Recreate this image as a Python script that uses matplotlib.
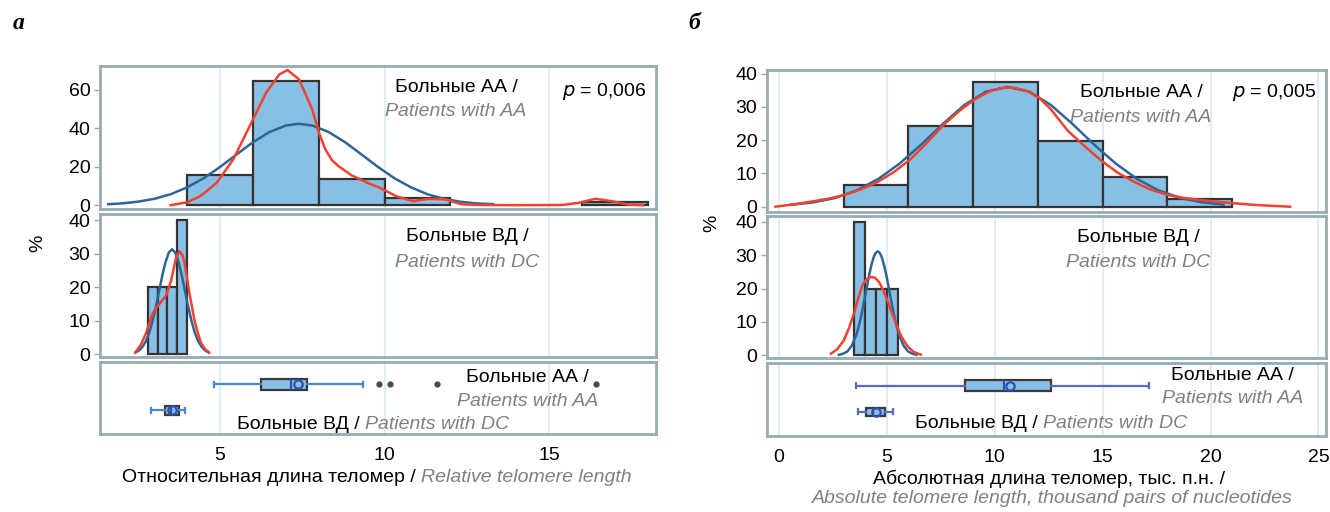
import numpy as np
import matplotlib
matplotlib.use("Agg")
import matplotlib.pyplot as plt

# ---- data ----
# relative telomere length (panel a)
rel_aa_edges = [4, 6, 8, 10, 12, 14, 16, 18]
rel_aa_pct = [15.8, 64.5, 13.4, 3.8, 0, 0, 1.8]
rel_dc_edges = [2.8, 3.1, 3.4, 3.7, 4.0]
rel_dc_pct = [20, 20, 20, 40]

rel_aa_norm_x = [1.6, 2.0, 2.5, 3.0, 3.5, 4.0, 4.5, 5.0, 5.5, 6.0, 6.5, 7.0, 7.4, 7.8, 8.3, 8.8, 9.3, 9.8, 10.3, 10.8, 11.3, 11.8, 12.3, 12.8, 13.3]
rel_aa_norm_y = [0.5, 0.9, 1.8, 3.3, 5.7, 9.3, 14.0, 19.9, 26.4, 32.8, 38.1, 41.5, 42.4, 41.5, 38.1, 32.8, 26.4, 19.9, 14.0, 9.3, 5.7, 3.3, 1.8, 0.9, 0.5]
rel_aa_kde_x = [3.5, 4.0, 4.4, 4.9, 5.4, 5.9, 6.4, 6.8, 7.05, 7.4, 7.8, 8.0, 8.2, 8.4, 8.6, 9.0, 9.5, 9.85, 10.35, 10.85, 11.35, 11.85, 12.35, 12.9, 14.0, 15.4, 15.9, 16.4, 16.9, 17.4, 17.85]
rel_aa_kde_y = [0, 1.5, 4.7, 11.7, 23.8, 41.2, 58.6, 68.1, 70.4, 65.5, 49.9, 38.0, 29.0, 23.5, 20.3, 15.5, 11.5, 9.1, 4.7, 2.1, 3.3, 3.0, 0.4, 0.1, 0, 0.1, 1.2, 3.3, 2.1, 0.3, 0]
rel_dc_norm_x = [2.44, 2.54, 2.64, 2.74, 2.84, 2.94, 3.04, 3.14, 3.24, 3.34, 3.44, 3.54, 3.64, 3.74, 3.84, 3.94, 4.04, 4.14, 4.24, 4.34, 4.44, 4.54, 4.64]
rel_dc_norm_y = [0.6, 1.2, 2.2, 3.8, 6.2, 9.6, 13.8, 18.5, 23.3, 27.4, 30.3, 31.3, 30.3, 27.4, 23.3, 18.5, 13.8, 9.6, 6.2, 3.8, 2.2, 1.2, 0.6]
rel_dc_kde_x = [2.42, 2.6, 2.75, 2.95, 3.06, 3.16, 3.36, 3.51, 3.66, 3.76, 3.86, 3.91, 4.0, 4.07, 4.22, 4.32, 4.42, 4.55, 4.67]
rel_dc_kde_y = [0.5, 3.0, 6.3, 12.2, 13.8, 15.1, 17.5, 21.9, 28.7, 30.7, 29.5, 27.8, 22.5, 18.1, 10.2, 6.5, 3.4, 1.5, 0.5]

rel_aa_box = dict(whislo=4.81, q1=6.25, med=7.16, q3=7.63, whishi=9.33, mean=7.36)
rel_aa_out = [9.82, 10.17, 11.6, 16.42]
rel_dc_box = dict(whislo=2.91, q1=3.32, med=3.5, q3=3.74, whishi=3.92, mean=3.55)

# absolute telomere length (panel b)
abs_aa_edges = [3, 6, 9, 12, 15, 18, 21]
abs_aa_pct = [6.5, 24.4, 37.6, 19.8, 8.8, 2.2]
abs_dc_edges = [3.5, 4.0, 4.5, 5.0, 5.5]
abs_dc_pct = [40, 20, 20, 20]

abs_aa_norm_x = [0.6, 1.6, 2.6, 3.6, 4.6, 5.6, 6.6, 7.6, 8.6, 9.6, 10.6, 11.6, 12.6, 13.6, 14.6, 15.6, 16.6, 17.6, 18.6, 19.6, 20.6]
abs_aa_norm_y = [0.6, 1.3, 2.6, 4.9, 8.3, 13.0, 18.7, 24.9, 30.6, 34.6, 36.0, 34.6, 30.6, 24.9, 18.7, 13.0, 8.3, 4.9, 2.6, 1.3, 0.6]
abs_aa_kde_x = [-0.16, 0.7, 1.47, 2.3, 3.02, 3.8, 4.57, 5.35, 6.12, 6.9, 7.66, 8.4, 9.06, 9.7, 10.3, 10.9, 11.54, 12.1, 12.6, 13.39, 14.2, 14.93, 15.7, 16.48, 17.2, 18.03, 18.8, 19.58, 20.3, 21.13, 21.9, 22.68, 23.69]
abs_aa_kde_y = [0, 0.7, 1.5, 2.4, 3.5, 5.2, 7.4, 10.5, 14.4, 19.5, 24.8, 29.0, 32.2, 34.5, 35.7, 35.8, 34.7, 32.5, 29.3, 22.8, 18.0, 13.9, 10.2, 7.4, 5.2, 3.5, 2.6, 2.0, 1.5, 1.0, 0.6, 0.3, 0]
abs_dc_norm_x = [2.78, 2.98, 3.18, 3.38, 3.58, 3.68, 3.78, 3.88, 3.98, 4.08, 4.18, 4.28, 4.38, 4.48, 4.58, 4.68, 4.78, 4.88, 4.98, 5.08, 5.18, 5.28, 5.38, 5.48, 5.58, 5.78, 5.98, 6.18, 6.38]
abs_dc_norm_y = [0.15, 0.5, 1.2, 2.9, 6.0, 8.2, 10.8, 13.9, 17.2, 20.6, 24.0, 26.9, 29.2, 30.7, 31.2, 30.7, 29.2, 26.9, 24.0, 20.6, 17.2, 13.9, 10.8, 8.2, 6.0, 2.9, 1.2, 0.5, 0.15]
abs_dc_kde_x = [2.41, 2.7, 3.02, 3.25, 3.48, 3.68, 3.87, 4.05, 4.25, 4.45, 4.64, 4.83, 5.03, 5.22, 5.42, 5.68, 5.96, 6.25, 6.58]
abs_dc_kde_y = [0.5, 1.8, 4.6, 8.2, 12.6, 17.2, 21.0, 22.8, 23.5, 23.3, 22.0, 19.6, 16.5, 13.0, 9.6, 5.6, 2.7, 1.0, 0.2]

abs_aa_box = dict(whislo=3.56, q1=8.62, med=10.45, q3=12.62, whishi=17.13, mean=10.73)
abs_dc_box = dict(whislo=3.67, q1=4.03, med=4.35, q3=4.91, whishi=5.27, mean=4.49)

# ---- style ----
FONT = "Liberation Sans"
FS = 14
BAR = "#88BFE5"
EDGE = "#333333"
BLUE = "#2F6496"
RED = "#F2412F"
FRAME = "#97ABB3"
GRID = "#E3ECF3"
GRAY = "#808080"

plt.rcParams["font.family"] = [FONT, "DejaVu Sans"]
W, H = 1330, 512
fig = plt.figure(figsize=(W / 100, H / 100), dpi=100)


def px_axes(x0, y0, x1, y1):
    ax = fig.add_axes([x0 / W, 1 - y1 / H, (x1 - x0) / W, (y1 - y0) / H])
    for s in ax.spines.values():
        s.set_color(FRAME)
        s.set_linewidth(2)
    ax.set_axisbelow(True)
    ax.grid(axis="x", color=GRID, lw=1.5)
    return ax


def hist_panel(ax, edges, pct, nx, ny, kx, ky, xlim, ylim, yticks):
    edges = np.array(edges, dtype=float)
    pct = np.array(pct, dtype=float)
    keep = pct > 0
    ax.bar(edges[:-1][keep], pct[keep], width=np.diff(edges)[keep], align="edge",
           color=BAR, edgecolor=EDGE, linewidth=1.6, zorder=2)
    ax.plot(nx, ny, color=BLUE, lw=1.8, zorder=3)
    ax.plot(kx, ky, color=RED, lw=1.8, zorder=4)
    ax.set_xlim(*xlim)
    ax.set_ylim(*ylim)
    ax.set_yticks(yticks)
    ax.tick_params(axis="y", labelsize=FS, length=4, width=1, color=FRAME, pad=3)
    ax.tick_params(axis="x", labelbottom=False, length=0)


def box_panel(ax, aa, aa_out, dc, xlim, xticks, whisk):
    s_aa = dict(aa, fliers=aa_out)
    s_dc = dict(dc, fliers=[])
    ax.bxp([s_aa, s_dc], positions=[0.69, 0.33], widths=[0.15, 0.12],
           orientation="horizontal", patch_artist=True, showmeans=True,
           capwidths=[0.07, 0.07],
           boxprops=dict(facecolor=BAR, edgecolor="#3A3A3A", linewidth=1.6),
           whiskerprops=dict(color=whisk, linewidth=1.6),
           capprops=dict(color=whisk, linewidth=1.6),
           medianprops=dict(color="#3050B0", linewidth=1.6),
           meanprops=dict(marker="o", markerfacecolor="none", markeredgecolor="#3050B0",
                          markeredgewidth=1.6, markersize=6),
           flierprops=dict(marker="o", markerfacecolor="#4A4A4A", markeredgecolor="#4A4A4A",
                           markersize=3.5))
    ax.set_xlim(*xlim)
    ax.set_ylim(0, 1)
    ax.set_yticks([])
    ax.set_xticks(xticks)
    ax.tick_params(axis="x", labelsize=FS, length=0, pad=9)


def ftext(x, y, s, **kw):
    kw.setdefault("fontsize", FS)
    kw.setdefault("va", "baseline")
    return fig.text(x / W, 1 - y / H, s, **kw)


def two_part(x, y, a, b, ha="left"):
    r = fig.canvas.get_renderer()
    t1 = ftext(0, y, a, color="black")
    t2 = ftext(0, y, b, color=GRAY, style="italic")
    w1 = t1.get_window_extent(r).width
    w2 = t2.get_window_extent(r).width
    gap = 5
    start = x if ha == "left" else x - (w1 + gap + w2) / 2
    t1.set_x(start / W)
    t2.set_x((start + w1 + gap) / W)


# ---- panel a ----
a_top = px_axes(100, 66, 656, 209)
hist_panel(a_top, rel_aa_edges, rel_aa_pct, rel_aa_norm_x, rel_aa_norm_y,
           rel_aa_kde_x, rel_aa_kde_y, (1.35, 18.25), (-2.0, 72.5), [0, 20, 40, 60])
a_top.set_xticks([5, 10, 15])
a_mid = px_axes(100, 214, 656, 357)
hist_panel(a_mid, rel_dc_edges, rel_dc_pct, rel_dc_norm_x, rel_dc_norm_y,
           rel_dc_kde_x, rel_dc_kde_y, (1.35, 18.25), (-0.8, 41.8), [0, 10, 20, 30, 40])
a_mid.set_xticks([5, 10, 15])
a_box = px_axes(100, 362, 656, 434)
box_panel(a_box, rel_aa_box, rel_aa_out, rel_dc_box, (1.35, 18.25), [5, 10, 15], "#4A86D8")

# ---- panel b ----
b_top = px_axes(767, 70, 1326, 212)
hist_panel(b_top, abs_aa_edges, abs_aa_pct, abs_aa_norm_x, abs_aa_norm_y,
           abs_aa_kde_x, abs_aa_kde_y, (-0.55, 25.35), (-1.6, 41.1), [0, 10, 20, 30, 40])
b_top.set_xticks([0, 5, 10, 15, 20, 25])
b_mid = px_axes(767, 216, 1326, 358)
hist_panel(b_mid, abs_dc_edges, abs_dc_pct, abs_dc_norm_x, abs_dc_norm_y,
           abs_dc_kde_x, abs_dc_kde_y, (-0.55, 25.35), (-0.8, 41.8), [0, 10, 20, 30, 40])
b_mid.set_xticks([0, 5, 10, 15, 20, 25])
b_box = px_axes(767, 363, 1326, 436)
box_panel(b_box, abs_aa_box, [], abs_dc_box, (-0.55, 25.35), [0, 5, 10, 15, 20, 25], "#5A6AC4")

# ---- texts ----
serif = dict(family="Liberation Serif", weight="bold", style="italic", fontsize=17)
ftext(13, 29, "а", **serif)
ftext(688, 29, "б", **serif)

ftext(38, 243, "%", rotation=90, va="center", ha="center")
ftext(712, 223, "%", rotation=90, va="center", ha="center")

# panel a labels
ftext(456, 92, "Больные АА /", ha="center")
ftext(456, 116, "Patients with AA", ha="center", color=GRAY, style="italic")
ftext(647, 96, "$p$ = 0,006", ha="right")
ftext(467, 241, "Больные ВД /", ha="center")
ftext(467, 267, "Patients with DC", ha="center", color=GRAY, style="italic")
ftext(527, 382, "Больные АА /", ha="center")
ftext(528, 406, "Patients with AA", ha="center", color=GRAY, style="italic")
two_part(237, 429, "Больные ВД /", "Patients with DC")
two_part(377, 482, "Относительная длина теломер /", "Relative telomere length", ha="center")

# panel b labels
ftext(1141, 97, "Больные АА /", ha="center")
ftext(1141, 122, "Patients with AA", ha="center", color=GRAY, style="italic")
ftext(1317, 97, "$p$ = 0,005", ha="right")
ftext(1138, 242, "Больные ВД /", ha="center")
ftext(1138, 267, "Patients with DC", ha="center", color=GRAY, style="italic")
ftext(1232, 380, "Больные АА /", ha="center")
ftext(1233, 403, "Patients with AA", ha="center", color=GRAY, style="italic")
two_part(915, 428, "Больные ВД /", "Patients with DC")
ftext(1049, 484, "Абсолютная длина теломер, тыс. п.н. /", ha="center")
ftext(1052, 503, "Absolute telomere length, thousand pairs of nucleotides",
      ha="center", color=GRAY, style="italic")

fig.savefig("out.png", dpi=100)
plt.close(fig)
